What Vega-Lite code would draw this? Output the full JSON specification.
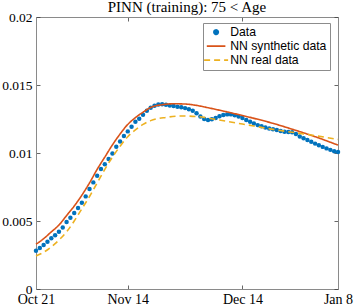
{
  "$schema": "https://vega.github.io/schema/vega-lite/v6.json",
  "width": 302,
  "height": 272,
  "autosize": "none",
  "padding": {"left": 36, "top": 17, "right": 16, "bottom": 17},
  "title": {"text": "PINN (training): 75 < Age", "font": "Liberation Serif", "fontSize": 15, "fontWeight": "normal", "color": "#000000", "offset": -5, "anchor": "middle"},
  "config": {
    "view": {"stroke": null},
    "axis": {"grid": false, "domainColor": "#8a8a8a", "domainWidth": 1, "tickColor": "#404040", "tickSize": -4, "tickWidth": 0.8, "labelFont": "Liberation Serif", "labelFontSize": 14, "labelColor": "#000000", "title": null, "labelPadding": 7, "labelOverlap": false, "labelFlush": false},
    "axisLeft": {"labelFontSize": 13.5, "labelPadding": 8},
    "legend": {"orient": "none", "legendX": 167, "legendY": 6, "title": null, "strokeColor": "#8c8c8c", "fillColor": "#ffffff", "padding": 3, "labelFont": "Liberation Sans", "labelFontSize": 12.2, "labelColor": "#000000", "symbolStrokeWidth": 1.6, "rowPadding": 1, "labelOffset": 8, "symbolOffset": 4}
  },
  "datasets": {
    "dots": [
      {"day": 0, "value": 0.00282, "series": "Data"}, {"day": 1, "value": 0.00301, "series": "Data"}, {"day": 2, "value": 0.00323, "series": "Data"}, {"day": 3, "value": 0.00348, "series": "Data"}, {"day": 4, "value": 0.00373, "series": "Data"}, {"day": 5, "value": 0.00395, "series": "Data"}, {"day": 6, "value": 0.00421, "series": "Data"}, {"day": 7, "value": 0.00453, "series": "Data"}, {"day": 8, "value": 0.00492, "series": "Data"}, {"day": 9, "value": 0.00524, "series": "Data"},
      {"day": 10, "value": 0.00559, "series": "Data"}, {"day": 11, "value": 0.00595, "series": "Data"}, {"day": 12, "value": 0.00634, "series": "Data"}, {"day": 13, "value": 0.00681, "series": "Data"}, {"day": 14, "value": 0.00735, "series": "Data"}, {"day": 15, "value": 0.00784, "series": "Data"}, {"day": 16, "value": 0.00833, "series": "Data"}, {"day": 17, "value": 0.00882, "series": "Data"}, {"day": 18, "value": 0.00917, "series": "Data"}, {"day": 19, "value": 0.00956, "series": "Data"},
      {"day": 20, "value": 0.00997, "series": "Data"}, {"day": 21, "value": 0.01046, "series": "Data"}, {"day": 22, "value": 0.01085, "series": "Data"}, {"day": 23, "value": 0.01125, "series": "Data"}, {"day": 24, "value": 0.01159, "series": "Data"}, {"day": 25, "value": 0.01193, "series": "Data"}, {"day": 26, "value": 0.0123, "series": "Data"}, {"day": 27, "value": 0.01252, "series": "Data"}, {"day": 28, "value": 0.01281, "series": "Data"}, {"day": 29, "value": 0.0131, "series": "Data"},
      {"day": 30, "value": 0.01333, "series": "Data"}, {"day": 31, "value": 0.01348, "series": "Data"}, {"day": 32, "value": 0.01356, "series": "Data"}, {"day": 33, "value": 0.01358, "series": "Data"}, {"day": 34, "value": 0.01355, "series": "Data"}, {"day": 35, "value": 0.0135, "series": "Data"}, {"day": 36, "value": 0.01345, "series": "Data"}, {"day": 37, "value": 0.0134, "series": "Data"}, {"day": 38, "value": 0.01336, "series": "Data"}, {"day": 39, "value": 0.0133, "series": "Data"},
      {"day": 40, "value": 0.01322, "series": "Data"}, {"day": 41, "value": 0.0131, "series": "Data"}, {"day": 42, "value": 0.01292, "series": "Data"}, {"day": 43, "value": 0.01268, "series": "Data"}, {"day": 44, "value": 0.0125, "series": "Data"}, {"day": 45, "value": 0.01243, "series": "Data"}, {"day": 46, "value": 0.01248, "series": "Data"}, {"day": 47, "value": 0.01258, "series": "Data"}, {"day": 48, "value": 0.0127, "series": "Data"}, {"day": 49, "value": 0.0128, "series": "Data"},
      {"day": 50, "value": 0.01284, "series": "Data"}, {"day": 51, "value": 0.01284, "series": "Data"}, {"day": 52, "value": 0.01278, "series": "Data"}, {"day": 53, "value": 0.01269, "series": "Data"}, {"day": 54, "value": 0.01257, "series": "Data"}, {"day": 55, "value": 0.01242, "series": "Data"}, {"day": 56, "value": 0.01229, "series": "Data"}, {"day": 57, "value": 0.01217, "series": "Data"}, {"day": 58, "value": 0.01205, "series": "Data"}, {"day": 59, "value": 0.01196, "series": "Data"},
      {"day": 60, "value": 0.01188, "series": "Data"}, {"day": 61, "value": 0.0118, "series": "Data"}, {"day": 62, "value": 0.01174, "series": "Data"}, {"day": 63, "value": 0.01169, "series": "Data"}, {"day": 64, "value": 0.01162, "series": "Data"}, {"day": 65, "value": 0.01157, "series": "Data"}, {"day": 66, "value": 0.01155, "series": "Data"}, {"day": 67, "value": 0.01153, "series": "Data"}, {"day": 68, "value": 0.0114, "series": "Data"}, {"day": 69, "value": 0.01122, "series": "Data"},
      {"day": 70, "value": 0.01108, "series": "Data"}, {"day": 71, "value": 0.01096, "series": "Data"}, {"day": 72, "value": 0.01082, "series": "Data"}, {"day": 73, "value": 0.01069, "series": "Data"}, {"day": 74, "value": 0.01057, "series": "Data"}, {"day": 75, "value": 0.01045, "series": "Data"}, {"day": 76, "value": 0.01034, "series": "Data"}, {"day": 77, "value": 0.01023, "series": "Data"}, {"day": 78, "value": 0.01013, "series": "Data"}, {"day": 79, "value": 0.01007, "series": "Data"}
    ],
    "synthetic": [
      {"day": 0, "value": 0.00329, "series": "NN synthetic data"}, {"day": 2, "value": 0.0037, "series": "NN synthetic data"}, {"day": 4, "value": 0.0042, "series": "NN synthetic data"}, {"day": 6, "value": 0.0047, "series": "NN synthetic data"}, {"day": 8, "value": 0.0054, "series": "NN synthetic data"}, {"day": 10, "value": 0.0061, "series": "NN synthetic data"}, {"day": 12, "value": 0.0069, "series": "NN synthetic data"}, {"day": 14, "value": 0.0078, "series": "NN synthetic data"}, {"day": 16, "value": 0.0088, "series": "NN synthetic data"}, {"day": 18, "value": 0.0097, "series": "NN synthetic data"},
      {"day": 20, "value": 0.0106, "series": "NN synthetic data"}, {"day": 22, "value": 0.0114, "series": "NN synthetic data"}, {"day": 24, "value": 0.0121, "series": "NN synthetic data"}, {"day": 26, "value": 0.0126, "series": "NN synthetic data"}, {"day": 28, "value": 0.013, "series": "NN synthetic data"}, {"day": 30, "value": 0.01335, "series": "NN synthetic data"}, {"day": 33, "value": 0.01355, "series": "NN synthetic data"}, {"day": 36, "value": 0.01362, "series": "NN synthetic data"}, {"day": 39, "value": 0.0136, "series": "NN synthetic data"}, {"day": 42, "value": 0.0135, "series": "NN synthetic data"},
      {"day": 45, "value": 0.01333, "series": "NN synthetic data"}, {"day": 50, "value": 0.01302, "series": "NN synthetic data"}, {"day": 56, "value": 0.01262, "series": "NN synthetic data"}, {"day": 62, "value": 0.01218, "series": "NN synthetic data"}, {"day": 67, "value": 0.01175, "series": "NN synthetic data"}, {"day": 73, "value": 0.0112, "series": "NN synthetic data"}, {"day": 79, "value": 0.01058, "series": "NN synthetic data"}
    ],
    "real": [
      {"day": 0, "value": 0.00243, "series": "NN real data"}, {"day": 2, "value": 0.0027, "series": "NN real data"}, {"day": 4, "value": 0.0031, "series": "NN real data"}, {"day": 6, "value": 0.0036, "series": "NN real data"}, {"day": 8, "value": 0.0042, "series": "NN real data"}, {"day": 10, "value": 0.005, "series": "NN real data"}, {"day": 12, "value": 0.0059, "series": "NN real data"}, {"day": 14, "value": 0.0068, "series": "NN real data"}, {"day": 16, "value": 0.0078, "series": "NN real data"}, {"day": 18, "value": 0.0088, "series": "NN real data"},
      {"day": 20, "value": 0.0097, "series": "NN real data"}, {"day": 22, "value": 0.0105, "series": "NN real data"}, {"day": 24, "value": 0.0112, "series": "NN real data"}, {"day": 26, "value": 0.0117, "series": "NN real data"}, {"day": 28, "value": 0.0121, "series": "NN real data"}, {"day": 30, "value": 0.01238, "series": "NN real data"}, {"day": 34, "value": 0.01262, "series": "NN real data"}, {"day": 38, "value": 0.01272, "series": "NN real data"}, {"day": 42, "value": 0.01268, "series": "NN real data"}, {"day": 47, "value": 0.01247, "series": "NN real data"},
      {"day": 54, "value": 0.01213, "series": "NN real data"}, {"day": 63, "value": 0.01169, "series": "NN real data"}, {"day": 72, "value": 0.01132, "series": "NN real data"}, {"day": 79, "value": 0.011, "series": "NN real data"}
    ]
  },
  "layer": [
    {
      "data": {"name": "dots"},
      "mark": {"type": "point", "filled": true, "opacity": 1},
      "encoding": {
        "x": {"field": "day", "type": "quantitative", "scale": {"domain": [0, 79], "nice": false, "zero": false}, "axis": {"orient": "bottom", "values": [0, 24, 54, 79], "labelExpr": "datum.value == 0 ? 'Oct 21' : datum.value == 24 ? 'Nov 14' : datum.value == 54 ? 'Dec 14' : 'Jan 8'"}},
        "y": {"field": "value", "type": "quantitative", "scale": {"domain": [0, 0.02], "nice": false, "zero": false}, "axis": {"orient": "left", "values": [0, 0.005, 0.01, 0.015, 0.02], "format": "~g"}},
        "color": {"field": "series", "type": "nominal", "scale": {"domain": ["Data", "NN synthetic data", "NN real data"], "range": ["#0072BD", "#D95319", "#EDB120"]}},
        "shape": {"field": "series", "type": "nominal", "scale": {"domain": ["Data", "NN synthetic data", "NN real data"], "range": ["circle", "M-2.4,0H2.4", "M-2.4,0H2.4"]}},
        "size": {"field": "series", "type": "nominal", "scale": {"domain": ["Data", "NN synthetic data", "NN real data"], "range": [20, 100, 100]}}
      }
    },
    {
      "data": {"name": "synthetic"},
      "mark": {"type": "line", "strokeWidth": 1.6, "interpolate": "monotone"},
      "encoding": {
        "x": {"field": "day", "type": "quantitative", "scale": {"domain": [0, 79], "nice": false, "zero": false}, "axis": {"orient": "top", "values": [0, 24, 54, 79], "labels": false}},
        "y": {"field": "value", "type": "quantitative", "scale": {"domain": [0, 0.02], "nice": false, "zero": false}, "axis": {"orient": "right", "values": [0, 0.005, 0.01, 0.015, 0.02], "labels": false}},
        "color": {"field": "series", "type": "nominal", "scale": {"domain": ["Data", "NN synthetic data", "NN real data"], "range": ["#0072BD", "#D95319", "#EDB120"]}},
        "strokeDash": {"field": "series", "type": "nominal", "scale": {"domain": ["Data", "NN synthetic data", "NN real data"], "range": [[1, 0], [1, 0], [6, 4]]}}
      }
    },
    {
      "data": {"name": "real"},
      "mark": {"type": "line", "strokeWidth": 1.6, "interpolate": "monotone"},
      "encoding": {
        "x": {"field": "day", "type": "quantitative", "scale": {"domain": [0, 79], "nice": false, "zero": false}, "axis": null},
        "y": {"field": "value", "type": "quantitative", "scale": {"domain": [0, 0.02], "nice": false, "zero": false}, "axis": null},
        "color": {"field": "series", "type": "nominal", "scale": {"domain": ["Data", "NN synthetic data", "NN real data"], "range": ["#0072BD", "#D95319", "#EDB120"]}},
        "strokeDash": {"field": "series", "type": "nominal", "scale": {"domain": ["Data", "NN synthetic data", "NN real data"], "range": [[1, 0], [1, 0], [6, 4]]}}
      }
    }
  ]
}
